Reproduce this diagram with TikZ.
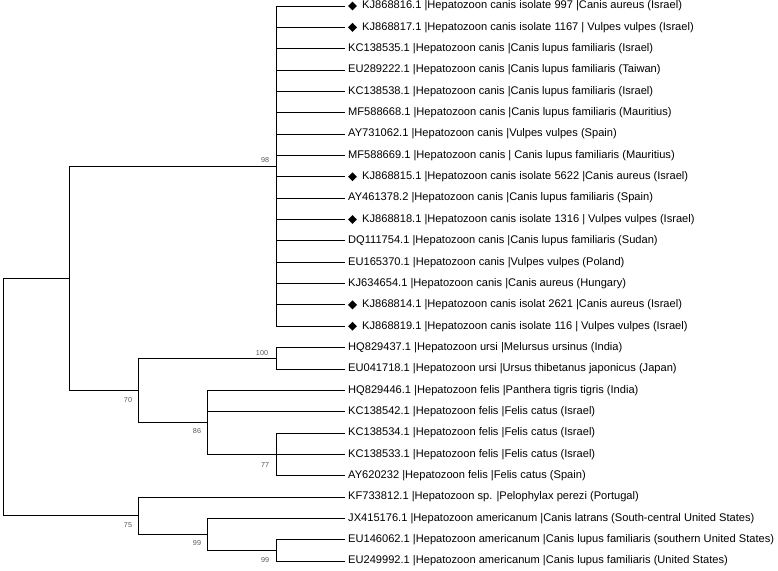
\documentclass[tikz,border=0pt]{standalone}
\usepackage{fontspec}
\setmainfont{Liberation Sans}
\usetikzlibrary{shapes.geometric}
\begin{document}
\begin{tikzpicture}[x=1pt,y=-1pt,
  br/.style={line width=0.9pt,line cap=rect},
  lab/.style={anchor=west,inner sep=0pt,font=\fontsize{11.1}{13}\selectfont},
  dia/.style={diamond,fill=black,draw=none,minimum width=9pt,minimum height=9pt,inner sep=0pt},
  bs/.style={font=\fontsize{7.2}{8}\selectfont,text=black!65,inner sep=0pt}]
\useasboundingbox (0,0) rectangle (778,570);
% internal nodes
\coordinate (root) at (3,397);
\coordinate (A) at (69,278.2);
\coordinate (canis) at (276,166.1);
\coordinate (B) at (138,390.3);
\coordinate (ursi) at (276,358.3);
\coordinate (felis) at (207,422.3);
\coordinate (n77) at (276,454.35);
\coordinate (C) at (138,515.7);
\coordinate (n99a) at (207,534.4);
\coordinate (n99b) at (276,550.4);
% tips
\foreach \i/\y in {1/6,2/27.35,3/48.7,4/70.05,5/91.4,6/112.75,7/134.1,8/155.45,9/176.8,10/198.15,11/219.5,12/240.85,13/262.2,14/283.55,15/304.9,16/326.25,17/347.6,18/368.95,19/390.3,20/411.65,21/433,22/454.35,23/475.7,24/497.05,25/518.4,26/539.75,27/561.1}
  {\coordinate (t\i) at (344.5,\y);}
% diamond markers
\foreach \i in {1,2,9,11,15,16}
  {\node[dia] (d\i) at ([xshift=8pt]t\i) {};}
% labels
\node[lab] (l1) at ([xshift=17.5pt]t1) {KJ868816.1 |Hepatozoon canis isolate 997 |Canis aureus (Israel)};
\node[lab] (l2) at ([xshift=17.5pt]t2) {KJ868817.1 |Hepatozoon canis isolate 1167 | Vulpes vulpes (Israel)};
\node[lab] (l3) at ([xshift=3.5pt]t3) {KC138535.1 |Hepatozoon canis |Canis lupus familiaris (Israel)};
\node[lab] (l4) at ([xshift=3.5pt]t4) {EU289222.1 |Hepatozoon canis |Canis lupus familiaris (Taiwan)};
\node[lab] (l5) at ([xshift=3.5pt]t5) {KC138538.1 |Hepatozoon canis |Canis lupus familiaris (Israel)};
\node[lab] (l6) at ([xshift=3.5pt]t6) {MF588668.1 |Hepatozoon canis |Canis lupus familiaris (Mauritius)};
\node[lab] (l7) at ([xshift=3.5pt]t7) {AY731062.1 |Hepatozoon canis |Vulpes vulpes (Spain)};
\node[lab] (l8) at ([xshift=3.5pt]t8) {MF588669.1 |Hepatozoon canis | Canis lupus familiaris (Mauritius)};
\node[lab] (l9) at ([xshift=17.5pt]t9) {KJ868815.1 |Hepatozoon canis isolate 5622 |Canis aureus (Israel)};
\node[lab] (l10) at ([xshift=3.5pt]t10) {AY461378.2 |Hepatozoon canis |Canis lupus familiaris (Spain)};
\node[lab] (l11) at ([xshift=17.5pt]t11) {KJ868818.1 |Hepatozoon canis isolate 1316 | Vulpes vulpes (Israel)};
\node[lab] (l12) at ([xshift=3.5pt]t12) {DQ111754.1 |Hepatozoon canis |Canis lupus familiaris (Sudan)};
\node[lab] (l13) at ([xshift=3.5pt]t13) {EU165370.1 |Hepatozoon canis |Vulpes vulpes (Poland)};
\node[lab] (l14) at ([xshift=3.5pt]t14) {KJ634654.1 |Hepatozoon canis |Canis aureus (Hungary)};
\node[lab] (l15) at ([xshift=17.5pt]t15) {KJ868814.1 |Hepatozoon canis isolat 2621 |Canis aureus (Israel)};
\node[lab] (l16) at ([xshift=17.5pt]t16) {KJ868819.1 |Hepatozoon canis isolate 116 | Vulpes vulpes (Israel)};
\node[lab] (l17) at ([xshift=3.5pt]t17) {HQ829437.1 |Hepatozoon ursi |Melursus ursinus (India)};
\node[lab] (l18) at ([xshift=3.5pt]t18) {EU041718.1 |Hepatozoon ursi |Ursus thibetanus japonicus (Japan)};
\node[lab] (l19) at ([xshift=3.5pt]t19) {HQ829446.1 |Hepatozoon felis |Panthera tigris tigris (India)};
\node[lab] (l20) at ([xshift=3.5pt]t20) {KC138542.1 |Hepatozoon felis |Felis catus (Israel)};
\node[lab] (l21) at ([xshift=3.5pt]t21) {KC138534.1 |Hepatozoon felis |Felis catus (Israel)};
\node[lab] (l22) at ([xshift=3.5pt]t22) {KC138533.1 |Hepatozoon felis |Felis catus (Israel)};
\node[lab] (l23) at ([xshift=3.5pt]t23) {AY620232 |Hepatozoon felis |Felis catus (Spain)};
\node[lab] (l24) at ([xshift=3.5pt]t24) {KF733812.1 |Hepatozoon sp. |Pelophylax perezi (Portugal)};
\node[lab] (l25) at ([xshift=3.5pt]t25) {JX415176.1 |Hepatozoon americanum |Canis latrans (South-central United States)};
\node[lab] (l26) at ([xshift=3.5pt]t26) {EU146062.1 |Hepatozoon americanum |Canis lupus familiaris (southern United States)};
\node[lab] (l27) at ([xshift=3.5pt]t27) {EU249992.1 |Hepatozoon americanum |Canis lupus familiaris (United States)};
% branches
\draw[br] (root) |- (A);
\draw[br] (root) |- (C);
\draw[br] (A) |- (canis);
\draw[br] (A) |- (B);
\foreach \i in {1,...,16} {\draw[br] (canis) |- (t\i);}
\draw[br] (B) |- (ursi);
\draw[br] (B) |- (felis);
\draw[br] (ursi) |- (t17);
\draw[br] (ursi) |- (t18);
\draw[br] (felis) |- (t19);
\draw[br] (felis) |- (t20);
\draw[br] (felis) |- (n77);
\draw[br] (n77) |- (t21);
\draw[br] (n77) |- (t22);
\draw[br] (n77) |- (t23);
\draw[br] (C) |- (t24);
\draw[br] (C) |- (n99a);
\draw[br] (n99a) |- (t25);
\draw[br] (n99a) |- (n99b);
\draw[br] (n99b) |- (t26);
\draw[br] (n99b) |- (t27);
% bootstrap values
\node[bs] (b98) at (265,160) {98};
\node[bs] (b70) at (128,400) {70};
\node[bs] (b100) at (262,353) {100};
\node[bs] (b86) at (197,431) {86};
\node[bs] (b77) at (265,465) {77};
\node[bs] (b75) at (128,525) {75};
\node[bs] (b99a) at (197,543) {99};
\node[bs] (b99b) at (265,560) {99};
\end{tikzpicture}
\end{document}
